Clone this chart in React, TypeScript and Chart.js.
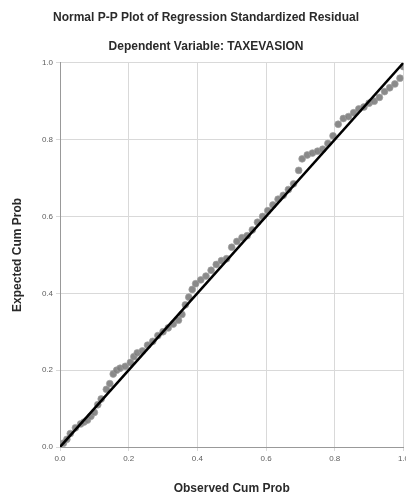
import React, { useEffect, useRef } from "react";
import { Chart, registerables } from "chart.js";

Chart.register(...registerables);

const observedCumProb = [
  0.01, 0.02, 0.03, 0.045, 0.06, 0.07, 0.08, 0.09, 0.1, 0.11, 0.12, 0.135, 0.145, 0.155, 0.165,
  0.175, 0.19, 0.205, 0.215, 0.225, 0.24, 0.255, 0.27, 0.285, 0.3, 0.315, 0.33, 0.345, 0.355,
  0.365, 0.375, 0.385, 0.395, 0.41, 0.425, 0.44, 0.455, 0.47, 0.485, 0.5, 0.515, 0.53, 0.545,
  0.56, 0.575, 0.59, 0.605, 0.62, 0.635, 0.65, 0.665, 0.68, 0.695, 0.705, 0.72, 0.735, 0.75,
  0.765, 0.78, 0.795, 0.81, 0.825, 0.84, 0.855, 0.87, 0.885, 0.9, 0.915, 0.93, 0.945, 0.96,
  0.975, 0.99, 1.0,
];
const expectedCumProb = [
  0.01, 0.02, 0.035, 0.05, 0.06, 0.065, 0.07, 0.08, 0.09, 0.11, 0.125, 0.15, 0.165, 0.19, 0.2,
  0.205, 0.21, 0.22, 0.235, 0.245, 0.25, 0.265, 0.275, 0.29, 0.3, 0.31, 0.32, 0.33, 0.345,
  0.37, 0.39, 0.41, 0.425, 0.435, 0.445, 0.46, 0.475, 0.485, 0.49, 0.52, 0.535, 0.545, 0.55,
  0.565, 0.585, 0.6, 0.615, 0.63, 0.645, 0.655, 0.67, 0.685, 0.72, 0.75, 0.76, 0.765, 0.77,
  0.775, 0.79, 0.81, 0.84, 0.855, 0.86, 0.87, 0.88, 0.885, 0.895, 0.9, 0.91, 0.925, 0.935,
  0.945, 0.96, 0.99,
];
const diagonalX = [0, 1];
const diagonalY = [0, 1];
const tickValues = [0, 0.2, 0.4, 0.6, 0.8, 1.0];

const FONT = "'Liberation Sans', Arial, sans-serif";

export default function App() {
  const ref = useRef<HTMLCanvasElement | null>(null);
  useEffect(() => {
    if (!ref.current) return;
    const chart = new Chart(ref.current, {
      type: "scatter",
      data: {
        datasets: [
          {
            type: "line",
            data: diagonalX.map((x, i) => ({ x, y: diagonalY[i] })),
            borderColor: "#000000",
            borderWidth: 2.5,
            pointRadius: 0,
            fill: false,
            order: 0,
          },
          {
            type: "scatter",
            data: observedCumProb.map((x, i) => ({ x, y: expectedCumProb[i] })),
            backgroundColor: "rgba(125,125,125,0.9)",
            borderColor: "rgba(160,160,160,0.7)",
            borderWidth: 1,
            pointRadius: 3.4,
            order: 1,
          },
        ],
      },
      options: {
        responsive: false,
        animation: false,
        devicePixelRatio: 1,
        layout: { padding: { left: 0, right: 0, top: 0, bottom: 0 } },
        plugins: {
          legend: { display: false },
          tooltip: { enabled: false },
          title: {
            display: true,
            text: "Normal P-P Plot of Regression Standardized Residual",
            color: "#2a2a2a",
            font: { family: FONT, size: 12, weight: "bold" },
            padding: { top: 10, bottom: 4 },
          },
          subtitle: {
            display: true,
            text: "Dependent Variable: TAXEVASION",
            color: "#2a2a2a",
            font: { family: FONT, size: 12, weight: "bold" },
            padding: { top: 11, bottom: 9 },
          },
        },
        scales: {
          x: {
            type: "linear",
            min: 0,
            max: 1,
            afterBuildTicks: (s: any) => {
              s.ticks = tickValues.map((v) => ({ value: v }));
            },
            afterFit: (s: any) => {
              s.height = 55;
            },
            ticks: {
              color: "#5e5e5e",
              font: { family: FONT, size: 8 },
              padding: 3,
              callback: (v: any) => Number(v).toFixed(1),
            },
            grid: { color: "#d9d9d9", lineWidth: 1, tickLength: 4 },
            border: { color: "#999", width: 1 },
            title: {
              display: true,
              text: "Observed Cum Prob",
              color: "#2a2a2a",
              font: { family: FONT, size: 12, weight: "bold" },
              padding: { top: 0, bottom: 6 },
            },
          },
          y: {
            type: "linear",
            min: 0,
            max: 1,
            afterBuildTicks: (s: any) => {
              s.ticks = tickValues.map((v) => ({ value: v }));
            },
            afterFit: (s: any) => {
              s.width = 60;
            },
            ticks: {
              color: "#5e5e5e",
              font: { family: FONT, size: 8 },
              padding: 3,
              callback: (v: any) => Number(v).toFixed(1),
            },
            grid: { color: "#d9d9d9", lineWidth: 1, tickLength: 4 },
            border: { color: "#999", width: 1 },
            title: {
              display: true,
              text: "Expected Cum Prob",
              color: "#2a2a2a",
              font: { family: FONT, size: 12, weight: "bold" },
              padding: { top: 10, bottom: 0 },
            },
          },
        },
      },
    });
    return () => chart.destroy();
  }, []);
  return (
    <div
      style={{
        position: "fixed",
        left: 0,
        top: 0,
        width: 406,
        height: 502,
        overflow: "hidden",
        background: "#fff",
      }}
    >
      <canvas ref={ref} width={412} height={502} />
    </div>
  );
}
